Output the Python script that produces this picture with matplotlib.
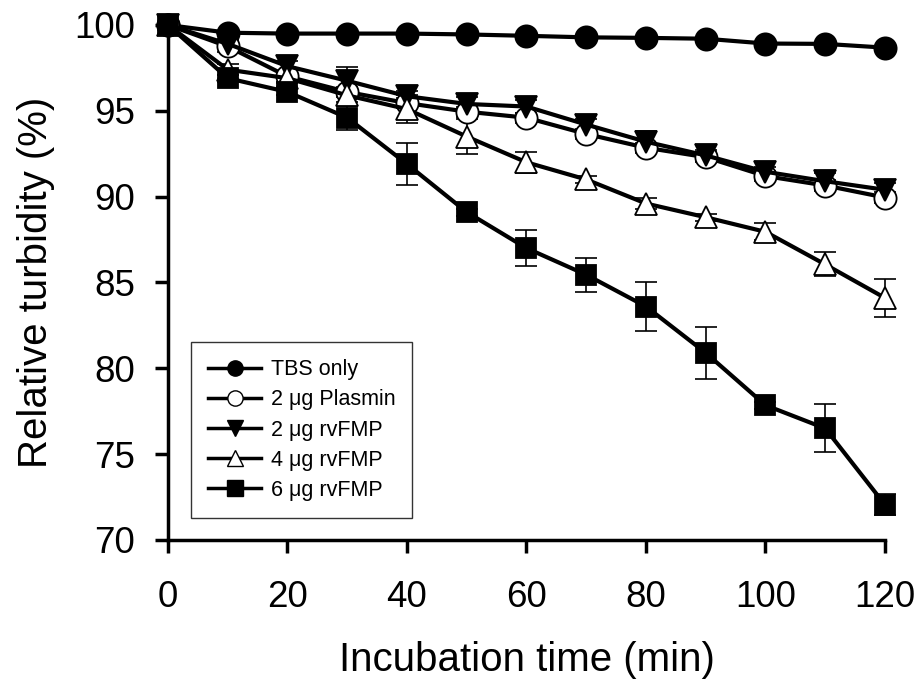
import matplotlib
matplotlib.use("Agg")
import matplotlib.pyplot as plt
from matplotlib.lines import Line2D

plt.rcParams['font.family'] = ['Liberation Sans', 'DejaVu Sans']

time_min = [0, 10, 20, 30, 40, 50, 60, 70, 80, 90, 100, 110, 120]

tbs = [100, 99.55, 99.5, 99.5, 99.5, 99.45, 99.37, 99.28, 99.25, 99.2, 98.92, 98.9, 98.68]
tbs_err = [0, 0.1, 0.1, 0.1, 0.1, 0.1, 0.1, 0.1, 0.1, 0.1, 0.1, 0.1, 0.1]

plasmin = [100, 98.75, 97.0, 96.1, 95.45, 94.95, 94.6, 93.65, 92.85, 92.3, 91.2, 90.65, 89.95]
plasmin_err = [0, 0.3, 0.3, 0.3, 0.3, 0.3, 0.3, 0.3, 0.3, 0.3, 0.3, 0.3, 0.3]

rv2 = [100, 98.9, 97.6, 96.75, 95.85, 95.4, 95.25, 94.2, 93.2, 92.4, 91.45, 90.9, 90.4]
rv2_err = [0, 0.3, 0.3, 0.8, 0.3, 0.4, 0.4, 0.3, 0.6, 0.3, 0.3, 0.5, 0.4]

rv4 = [100, 97.4, 96.9, 95.9, 95.1, 93.5, 92.0, 91.0, 89.6, 88.8, 87.95, 86.05, 84.1]
rv4_err = [0, 0.3, 0.3, 0.4, 0.8, 1.0, 0.6, 0.2, 0.3, 0.2, 0.5, 0.7, 1.1]

rv6 = [100, 96.9, 96.1, 94.6, 91.9, 89.1, 87.0, 85.45, 83.6, 80.9, 77.85, 76.5, 72.05]
rv6_err = [0, 0.2, 0.2, 0.7, 1.2, 0.2, 1.05, 1.0, 1.4, 1.5, 0.2, 1.4, 0.6]

labels = ['TBS only', '2 \u03bcg Plasmin', '2 \u03bcg rvFMP', '4 \u03bcg rvFMP', '6 \u03bcg rvFMP']

fig = plt.figure(figsize=(9.21, 6.83), dpi=100)
ax = fig.add_axes([0.1824, 0.2094, 0.7785, 0.7540])

series = [
    (tbs, tbs_err, 'o', 'black'),
    (plasmin, plasmin_err, 'o', 'white'),
    (rv2, rv2_err, 'v', 'black'),
    (rv4, rv4_err, '^', 'white'),
    (rv6, rv6_err, 's', 'black'),
]
msizes = {'o': 16, 'v': 16, '^': 16, 's': 15}

handles = []
for (vals, errs, m, fc), lab in zip(series, labels):
    ax.errorbar(time_min, vals, yerr=errs, fmt='none', ecolor='black',
                elinewidth=1.2, capsize=8, capthick=1.2, clip_on=False, zorder=2)
    h, = ax.plot(time_min, vals, color='black', lw=3.0, marker=m,
                 markersize=msizes[m], markerfacecolor=fc, markeredgecolor='black',
                 markeredgewidth=1.3, clip_on=False, zorder=3, label=lab)
    handles.append(h)

ax.set_xlim(0, 120)
ax.set_ylim(70, 100)
ax.set_xticks(range(0, 121, 20))
ax.set_yticks(range(70, 101, 5))
for s in ['top', 'right']:
    ax.spines[s].set_visible(False)
for s in ['left', 'bottom']:
    ax.spines[s].set_linewidth(2.5)
ax.tick_params(direction='out', length=9.5, width=2.5, labelsize=26.5)
ax.tick_params(axis='y', pad=14)
ax.tick_params(axis='x', pad=19)
ax.set_xlabel('Incubation time (min)', fontsize=29, labelpad=19)
ax.set_ylabel('Relative turbidity (%)', fontsize=29, labelpad=14)

leg_handles = [Line2D([0], [0], color='black', lw=2.5, marker=h.get_marker(),
                      markersize=11, markerfacecolor=h.get_markerfacecolor(),
                      markeredgecolor='black', markeredgewidth=1.0) for h in handles]
leg = ax.legend(leg_handles, labels, loc='lower left', bbox_to_anchor=(0.032, 0.043),
                borderaxespad=0, fontsize=15.5, frameon=True, fancybox=False,
                edgecolor='black', handlelength=2.45, borderpad=0.8,
                labelspacing=0.42, handletextpad=0.45)
leg.get_frame().set_linewidth(1.0)

fig.savefig('out.png', dpi=100)
